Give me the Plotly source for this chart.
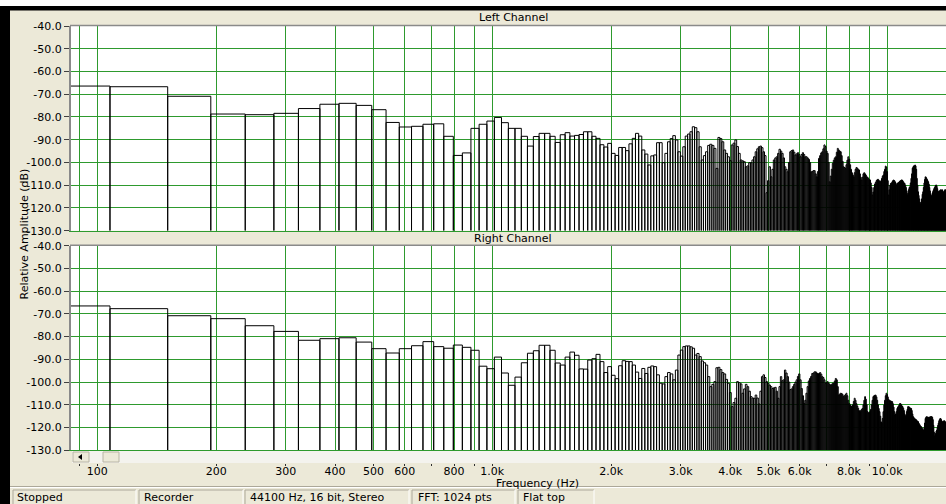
import plotly.graph_objects as go

# ---- analyser settings -------------------------------------------------
SAMPLE_RATE = 44100
FFT_SIZE = 1024
FIRST_BIN = 2            # first FFT bin shown on the log axis
DB_FLOOR = -130.0
DB_TOP = -40.0

# ---- magnitude per FFT bin (bins 2 .. 327), dB -------------------------
left_db = [
    -66.4, -66.7, -70.9, -78.7, -79.0, -78.4, -76.3, -74.4, -74.0, -74.9,
    -76.8, -82.4, -84.4, -84.1, -83.2, -83.0, -88.5, -96.9, -95.8, -85.0,
    -83.2, -81.8, -80.2, -82.5, -85.0, -85.0, -88.5, -92.8, -88.6, -87.2,
    -87.2, -88.5, -91.2, -87.8, -86.9, -88.4, -88.1, -87.7, -86.5, -86.5,
    -88.5, -89.4, -92.2, -93.2, -91.6, -96.0, -96.9, -93.4, -93.4, -94.8,
    -91.8, -89.4, -87.2, -88.4, -94.5, -96.3, -101.1, -97.1, -96.7, -91.3,
    -91.3, -100.1, -96.0, -90.9, -89.5, -88.2, -90.1, -95.3, -97.2, -93.1,
    -88.4, -87.5, -86.5, -84.3, -84.7, -86.5, -93.1, -98.9, -97.0, -95.3,
    -92.5, -92.0, -92.5, -93.8, -102.6, -89.0, -89.5, -90.9, -94.5, -96.0,
    -97.5, -99.2, -92.3, -91.5, -90.1, -93.0, -96.0, -98.9, -99.3, -99.7,
    -101.9, -101.5, -100.1, -100.1, -98.9, -97.5, -95.3, -94.0, -93.1, -92.8,
    -93.5, -95.3, -97.0, -113.3, -108.0, -101.9, -106.3, -103.0, -98.9, -98.0,
    -97.5, -96.0, -94.2, -95.0, -96.0, -98.0, -101.9, -103.0, -104.1, -100.0,
    -95.3, -94.8, -94.5, -95.5, -96.7, -96.2, -95.7, -96.5, -97.5, -96.5,
    -95.7, -96.5, -97.5, -97.5, -98.0, -98.6, -100.0, -104.1, -104.0, -103.6,
    -103.6, -105.0, -106.3, -104.0, -98.2, -97.0, -95.8, -95.3, -94.0, -92.3,
    -93.0, -95.0, -96.0, -100.0, -108.5, -106.0, -103.0, -100.4, -99.0, -98.0,
    -97.5, -95.5, -93.8, -94.5, -95.0, -95.3, -97.0, -99.5, -101.9, -102.2,
    -102.6, -101.0, -99.0, -97.5, -98.5, -101.0, -103.0, -104.5, -105.5, -106.3,
    -104.5, -103.0, -102.2, -102.5, -103.0, -103.3, -105.0, -106.5, -107.7, -106.5,
    -105.0, -104.5, -105.0, -105.5, -106.3, -106.5, -107.0, -107.5, -107.7, -109.0,
    -111.0, -114.3, -113.0, -111.0, -109.5, -108.8, -108.0, -107.6, -107.4, -107.8,
    -108.2, -108.5, -108.0, -107.0, -106.0, -105.5, -104.0, -103.0, -101.6, -102.0,
    -104.0, -108.0, -114.3, -112.0, -110.0, -109.2, -109.0, -108.5, -108.0, -107.7,
    -108.0, -108.5, -109.0, -109.9, -109.5, -109.0, -108.8, -108.5, -108.2, -108.0,
    -107.7, -107.7, -108.0, -108.5, -109.0, -109.2, -110.0, -111.0, -112.5, -114.3,
    -113.5, -112.0, -111.0, -110.7, -109.0, -107.0, -105.0, -102.5, -101.9, -101.5,
    -101.5, -101.1, -101.5, -103.0, -107.0, -110.0, -112.9, -114.5, -116.0, -117.5,
    -118.3, -117.5, -116.0, -114.0, -112.9, -111.0, -109.0, -107.5, -106.3, -106.5,
    -107.0, -107.5, -108.0, -108.5, -109.5, -111.0, -112.5, -114.0, -115.1, -114.5,
    -113.5, -112.8, -112.1, -111.5, -111.0, -110.5, -110.0, -109.9, -110.5, -111.5,
    -112.5, -112.9, -112.9, -112.5, -112.2, -112.0, -112.1, -112.1, -112.0, -112.5,
    -113.0, -113.0, -112.5, -112.0, -112.0, -113.0,
]

right_db = [
    -66.5, -67.7, -70.8, -72.1, -75.2, -77.7, -81.6, -80.9, -80.5, -82.4,
    -85.3, -87.2, -85.3, -84.0, -82.2, -84.4, -85.1, -83.7, -84.7, -86.0,
    -93.0, -94.1, -89.0, -96.0, -101.4, -97.8, -91.5, -87.3, -86.2, -83.8,
    -83.8, -86.0, -91.6, -92.5, -89.0, -86.8, -88.2, -94.2, -94.3, -90.3,
    -89.7, -87.8, -91.0, -95.8, -93.2, -97.0, -98.5, -92.8, -90.6, -90.9,
    -91.0, -92.5, -95.6, -98.4, -94.0, -96.2, -93.5, -92.9, -93.2, -96.8,
    -100.5, -100.8, -97.6, -95.8, -96.4, -99.0, -94.7, -88.1, -85.9, -84.4,
    -84.1, -84.1, -84.5, -85.1, -88.1, -87.4, -88.8, -90.7, -91.5, -92.5,
    -97.6, -102.0, -101.0, -99.8, -93.7, -93.5, -94.5, -95.8, -96.4, -98.8,
    -100.5, -104.6, -110.8, -109.0, -107.1, -99.8, -100.3, -100.8, -104.9, -103.0,
    -101.0, -102.0, -104.0, -106.4, -107.0, -107.1, -105.7, -107.0, -109.6, -104.0,
    -97.6, -96.8, -98.0, -99.8, -100.5, -101.3, -102.0, -102.8, -102.5, -102.3,
    -104.0, -107.1, -102.0, -97.6, -99.4, -99.0, -94.7, -96.0, -97.6, -100.0,
    -103.3, -103.0, -102.0, -101.0, -100.0, -99.0, -97.5, -96.4, -99.0, -102.8,
    -106.0, -109.4, -108.0, -104.9, -102.0, -99.5, -98.4, -97.5, -96.2, -96.0,
    -95.5, -95.5, -96.0, -96.4, -96.2, -95.8, -96.5, -97.6, -98.0, -99.0,
    -100.5, -100.2, -99.8, -100.5, -101.0, -101.3, -101.0, -100.5, -100.5, -99.5,
    -98.4, -99.0, -102.0, -105.7, -105.3, -104.9, -105.0, -105.5, -106.4, -106.0,
    -105.5, -104.9, -106.0, -108.0, -109.4, -110.0, -110.5, -110.8, -110.0, -108.5,
    -107.1, -108.0, -109.5, -110.5, -111.5, -112.5, -113.0, -112.5, -112.0, -111.6,
    -110.0, -108.0, -106.4, -107.5, -110.0, -113.0, -113.5, -113.5, -113.0, -112.0,
    -110.0, -108.0, -106.4, -106.0, -105.8, -105.7, -106.5, -108.0, -110.0, -111.6,
    -113.0, -115.0, -117.5, -117.9, -116.0, -113.0, -110.1, -108.0, -106.0, -104.9,
    -105.5, -106.5, -107.5, -108.1, -108.2, -108.3, -108.5, -108.6, -109.5, -111.0,
    -113.0, -114.5, -114.0, -113.0, -111.6, -111.0, -110.5, -110.0, -109.4, -109.5,
    -110.0, -110.5, -110.8, -111.5, -112.5, -114.0, -115.2, -114.5, -113.0, -112.0,
    -110.8, -110.8, -111.0, -111.3, -111.6, -111.6, -112.5, -114.0, -115.2, -115.5,
    -116.0, -116.2, -116.4, -116.6, -117.0, -117.2, -117.4, -118.0, -118.5, -119.0,
    -119.5, -119.6, -120.0, -120.5, -121.0, -121.1, -120.0, -118.0, -116.0, -115.5,
    -115.2, -115.3, -115.5, -115.5, -115.5, -115.4, -115.3, -115.2, -115.2, -115.2,
    -115.5, -116.5, -119.0, -122.0, -124.0, -123.5, -122.5, -121.5, -121.1, -120.0,
    -119.0, -118.0, -117.0, -116.5, -116.0, -116.0, -116.5, -117.0, -117.4, -117.5,
    -117.4, -117.0, -117.0, -117.4, -117.5, -118.0,
]

# ---- axis ticks --------------------------------------------------------
freq_ticks = [90, 100, 200, 300, 400, 500, 600, 700, 800, 900,
              1000, 2000, 3000, 4000, 5000, 6000, 7000, 8000, 9000, 10000]
freq_tick_text = ["", "100", "200", "300", "400", "500", "600", "", "800", "",
                  "1.0k", "2.0k", "3.0k", "4.0k", "5.0k", "6.0k", "", "8.0k", "", "10.0k"]
db_ticks = [-40, -50, -60, -70, -80, -90, -100, -110, -120, -130]
db_tick_text = ["-40.0", "-50.0", "-60.0", "-70.0", "-80.0",
                "-90.0", "-100.0", "-110.0", "-120.0", "-130.0"]

channel_titles = ["Left Channel", "Right Channel"]
y_title = "Relative Amplitude (dB)"
x_title = "Frequency (Hz)"
status_fields = ["Stopped", "Recorder", "44100 Hz, 16 bit, Stereo", "FFT: 1024 pts", "Flat top"]

# ---- geometry of the window (pixels) -----------------------------------
W, H = 946, 504
FREQ_RANGE_LOG = [1.93342, 4.14861]

def fx(px):
    return px / W

def fy(py):
    return 1 - py / H

BG = "#ECE9D8"
GRID = "#2e9a2e"
FONT = "DejaVu Sans"


def bin_outline(values):
    """Outline of the FFT bins as rectangles standing on the dB floor."""
    df = SAMPLE_RATE / FFT_SIZE
    xs, ys = [], []
    for i, v in enumerate(values):
        k = FIRST_BIN + i
        lo, hi = (k - 0.5) * df, (k + 0.5) * df
        xs += [lo, lo, hi, hi]
        ys += [DB_FLOOR, v, v, DB_FLOOR]
    return xs, ys


fig = go.Figure()
for values, xa, ya in [(left_db, "x", "y"), (right_db, "x2", "y2")]:
    xs, ys = bin_outline(values)
    fig.add_trace(go.Scatter(
        x=xs, y=ys, xaxis=xa, yaxis=ya, mode="lines",
        line=dict(color="#000000", width=1, simplify=False),
        hoverinfo="skip", showlegend=False,
    ))
# carrier for the frequency scale drawn under the scroll bar
fig.add_trace(go.Scatter(x=[], y=[], xaxis="x3", yaxis="y2",
                         showlegend=False, hoverinfo="skip"))

x_dom = [fx(71), 1.0]
top_dom = [fy(230.7), fy(26)]
bot_dom = [fy(450.3), fy(245.7)]

common_x = dict(
    type="log", range=FREQ_RANGE_LOG, tickmode="array", tickvals=freq_ticks,
    showticklabels=False, ticks="", showgrid=True, gridcolor=GRID, gridwidth=1,
    showline=True, linecolor=GRID, linewidth=1, zeroline=False, domain=x_dom,
    automargin=False,
)
common_y = dict(
    range=[DB_FLOOR, DB_TOP], tickmode="array", tickvals=db_ticks, ticktext=db_tick_text,
    ticks="outside", ticklen=5, tickcolor="#404040", tickwidth=1,
    showgrid=True, gridcolor=GRID, gridwidth=1, zeroline=False,
    showline=True, linecolor="#8a8a8a", linewidth=2, automargin=False,
    tickfont=dict(family=FONT, size=11, color="#000000"),
)

fig.update_layout(
    width=W, height=H,
    margin=dict(l=0, r=0, t=0, b=0, pad=0, autoexpand=False),
    paper_bgcolor=BG, plot_bgcolor="#FFFFFF",
    showlegend=False,
    xaxis=dict(common_x, anchor="y"),
    yaxis=dict(common_y, domain=top_dom, anchor="x"),
    xaxis2=dict(common_x, anchor="y2"),
    yaxis2=dict(common_y, domain=bot_dom, anchor="x2"),
    xaxis3=dict(
        type="log", range=FREQ_RANGE_LOG, overlaying="x2", anchor="free",
        position=fy(463), side="bottom", tickmode="array",
        tickvals=freq_ticks, ticktext=freq_tick_text,
        ticks="outside", ticklen=2, tickcolor="#303030", tickwidth=1,
        ticklabelstandoff=-4,
        showgrid=False, showline=False, zeroline=False, automargin=False,
        tickfont=dict(family=FONT, size=11, color="#000000"),
    ),
)

shapes = []
# window chrome around the plots
shapes.append(dict(type="rect", xref="paper", yref="paper", x0=0, x1=1, y0=fy(6), y1=1,
                   fillcolor="#FFFFFF", line=dict(width=0), layer="below"))
shapes.append(dict(type="rect", xref="paper", yref="paper", x0=0, x1=1, y0=fy(10.5), y1=fy(6),
                   fillcolor="#000000", line=dict(width=0), layer="below"))
shapes.append(dict(type="rect", xref="paper", yref="paper", x0=0, x1=fx(10), y0=0, y1=fy(6),
                   fillcolor="#000000", line=dict(width=0), layer="below"))
# top borders of the two plot frames
for y_top in (25.5, 245.2):
    shapes.append(dict(type="line", xref="paper", yref="paper", x0=fx(70), x1=1,
                       y0=fy(y_top), y1=fy(y_top), line=dict(color="#8a8a8a", width=1.5)))
# scroll bar under the lower plot
shapes.append(dict(type="rect", xref="paper", yref="paper", x0=fx(72), x1=1, y0=fy(463), y1=fy(451),
                   fillcolor="#F4F3EE", line=dict(width=0)))
for bx0, bx1 in ((73, 89), (103, 119)):
    shapes.append(dict(type="rect", xref="paper", yref="paper", x0=fx(bx0), x1=fx(bx1),
                       y0=fy(462), y1=fy(452), fillcolor=BG, line=dict(color="#B8B4A4", width=1)))
shapes.append(dict(type="path", xref="paper", yref="paper",
                   path=f"M {fx(78)} {fy(457)} L {fx(82)} {fy(454)} L {fx(82)} {fy(460)} Z",
                   fillcolor="#000000", line=dict(width=0)))
# status bar
shapes.append(dict(type="line", xref="paper", yref="paper", x0=fx(10), x1=1,
                   y0=fy(486.5), y1=fy(486.5), line=dict(color="#ACA899", width=1)))
shapes.append(dict(type="line", xref="paper", yref="paper", x0=fx(10), x1=1,
                   y0=fy(487.5), y1=fy(487.5), line=dict(color="#FFFFFF", width=1)))
status_boxes = [(13, 136), (139, 243), (245, 409), (412, 515), (518, 594)]
for bx0, bx1 in status_boxes:
    shapes.append(dict(type="line", xref="paper", yref="paper", x0=fx(bx0), x1=fx(bx1),
                       y0=fy(490), y1=fy(490), line=dict(color="#ACA899", width=1)))
    shapes.append(dict(type="line", xref="paper", yref="paper", x0=fx(bx0), x1=fx(bx0),
                       y0=0, y1=fy(490), line=dict(color="#ACA899", width=1)))
    shapes.append(dict(type="line", xref="paper", yref="paper", x0=fx(bx1), x1=fx(bx1),
                       y0=0, y1=fy(490), line=dict(color="#FFFFFF", width=1)))
fig.update_layout(shapes=shapes)

annotations = [
    dict(text=channel_titles[0], x=fx(513), y=fy(18)),
    dict(text=channel_titles[1], x=fx(513), y=fy(238)),
    dict(text=y_title, x=fx(23.5), y=fy(234), textangle=-90),
    dict(text=x_title, x=fx(537), y=fy(483)),
]
for a in annotations:
    a.update(xref="paper", yref="paper", showarrow=False, xanchor="center", yanchor="middle",
             font=dict(family=FONT, size=11, color="#000000"))
status_x = [15, 142, 248, 416, 521]
for sx, txt in zip(status_x, status_fields):
    annotations.append(dict(text=txt, x=fx(sx), y=fy(497.5), xref="paper", yref="paper",
                            showarrow=False, xanchor="left", yanchor="middle",
                            font=dict(family=FONT, size=11, color="#000000")))
fig.update_layout(annotations=annotations)

fig.write_html("out.html")
